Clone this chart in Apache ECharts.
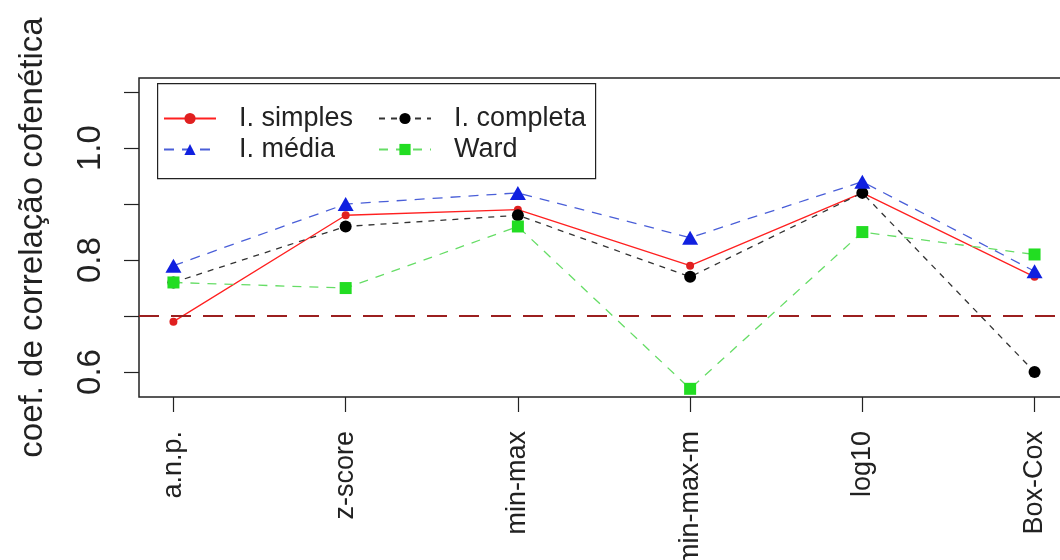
<!DOCTYPE html>
<html>
<head>
<meta charset="utf-8">
<script src="https://cdn.jsdelivr.net/npm/echarts@6/dist/echarts.min.js"></script>
<style>
  html, body { margin: 0; padding: 0; background: #fff; }
  #chart { width: 1060px; height: 560px; }
</style>
</head>
<body>
<div id="chart"></div>
<script>
// Normalization methods on the x axis
const categories = ['a.n.p.', 'z-score', 'min-max', 'min-max-m', 'log10', 'Box-Cox'];

// Cophenetic correlation for each linkage method
const ligSimples   = [0.69, 0.88, 0.89, 0.79, 0.92, 0.77];
const ligMedia     = [0.79, 0.90, 0.92, 0.84, 0.94, 0.78];
const ligCompleta  = [0.76, 0.86, 0.88, 0.77, 0.92, 0.60];
const ward         = [0.76, 0.75, 0.86, 0.57, 0.85, 0.81];

// Reference threshold
const limiar = 0.7;

// Axis ticks
const yTicks = [0.6, 0.7, 0.8, 0.9, 1.0, 1.1];
const yTickLabels = [0.6, 0.8, 1.0];

const FONT = 'Liberation Sans, Arial, Helvetica, sans-serif';
const xPos = categories.map((c, i) => i + 1);
const pairs = vals => vals.map((v, i) => [xPos[i], v]);

const chart = echarts.init(document.getElementById('chart'), null, { renderer: 'canvas' });

const legendText = { fontFamily: FONT, fontSize: 27, color: '#222', padding: [0, 0, 0, 18] };

chart.setOption({
  animation: false,
  backgroundColor: '#ffffff',
  grid: {
    left: 139, top: 78, width: 930, height: 319,
    outerBoundsMode: 'none', containLabel: false,
    show: true, borderColor: '#222', borderWidth: 1.5, backgroundColor: 'transparent'
  },
  xAxis: {
    type: 'value', min: 0.8, max: 6.2,
    axisLine: { show: false },
    splitLine: { show: false },
    axisTick: { show: true, customValues: xPos, length: 15, lineStyle: { color: '#222', width: 1.2 } },
    axisLabel: {
      customValues: xPos, rotate: 90, margin: 34,
      fontFamily: FONT, fontSize: 27, color: '#222',
      formatter: v => categories[Math.round(v) - 1]
    }
  },
  yAxis: {
    type: 'value', min: 0.5554, max: 1.1252,
    name: 'coef. de correlação cofenética',
    nameLocation: 'middle', nameRotate: 90, nameGap: 90,
    nameTextStyle: { fontFamily: FONT, fontSize: 33, color: '#222' },
    axisLine: { show: false },
    splitLine: { show: false },
    axisTick: { show: true, customValues: yTicks, length: 15, lineStyle: { color: '#222', width: 1.2 } },
    axisLabel: {
      customValues: yTickLabels, rotate: 90, margin: 32,
      fontFamily: FONT, fontSize: 33, color: '#222',
      formatter: v => v.toFixed(1)
    }
  },
  legend: [
    {
      orient: 'vertical', left: 163, top: 105, padding: 0, itemGap: 4,
      itemWidth: 52, itemHeight: 14,
      textStyle: legendText,
      data: ['I. simples', 'I. média']
    },
    {
      orient: 'vertical', left: 378, top: 105, padding: 0, itemGap: 4,
      itemWidth: 52, itemHeight: 14,
      textStyle: legendText,
      data: ['I. completa', 'Ward']
    }
  ],
  graphic: [
    {
      type: 'rect', left: 157, top: 83, z: -1,
      shape: { width: 438, height: 95 },
      style: { fill: '#fff', stroke: '#222', lineWidth: 1.2 }
    }
  ],
  series: [
    {
      name: 'I. simples', type: 'line', data: pairs(ligSimples),
      symbol: 'circle', symbolSize: 8,
      lineStyle: { color: '#ff2020', width: 1.3, type: 'solid' },
      itemStyle: { color: '#e02020' },
      markLine: {
        silent: true, symbol: 'none', label: { show: false },
        lineStyle: { color: '#9b1f1f', width: 2, type: [20, 12] },
        data: [{ yAxis: limiar }]
      },
      z: 2
    },
    {
      name: 'I. completa', type: 'line', data: pairs(ligCompleta),
      symbol: 'circle', symbolSize: 12,
      lineStyle: { color: '#333', width: 1.3, type: [6, 6] },
      itemStyle: { color: '#000' },
      z: 3
    },
    {
      name: 'I. média', type: 'line', data: pairs(ligMedia),
      symbol: 'triangle', symbolSize: [16, 14],
      lineStyle: { color: '#4a5fd8', width: 1.3, type: [10, 8] },
      itemStyle: { color: '#1020e0' },
      z: 4
    },
    {
      name: 'Ward', type: 'line', data: pairs(ward),
      symbol: 'rect', symbolSize: 12,
      lineStyle: { color: '#66dd66', width: 1.3, type: [9, 8] },
      itemStyle: { color: '#22dd22' },
      z: 5
    }
  ]
});
</script>
</body>
</html>
